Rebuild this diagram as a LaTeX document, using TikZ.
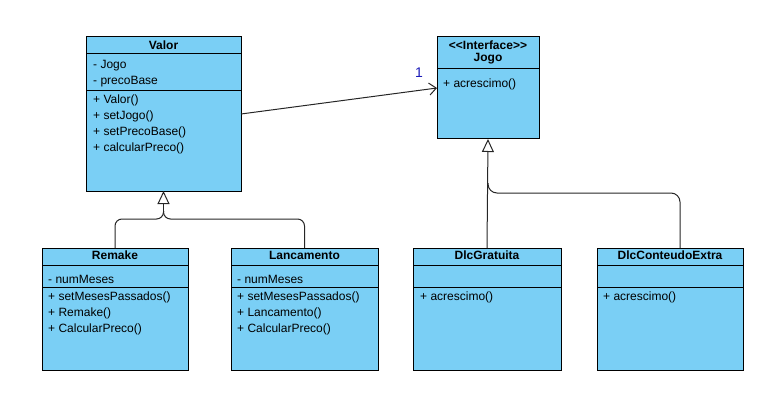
\documentclass[tikz,border=0pt]{standalone}
\usepackage{fontspec}
\setmainfont{Liberation Sans}
\usetikzlibrary{arrows.meta,calc}
\definecolor{boxblue}{HTML}{7ACFF5}
\definecolor{labelblue}{HTML}{1A1AB8}
\begin{document}
\begin{tikzpicture}[x=1pt,y=-1pt,
  umlbox/.style={draw=black, fill=boxblue, line width=1pt, anchor=north west, inner sep=0pt, outer sep=0pt},
  sepline/.style={draw=black, line width=1pt},
  member/.style={anchor=west, inner sep=0pt, font=\fontsize{12}{14}\selectfont},
  header/.style={anchor=center, inner sep=0pt, font=\fontsize{12}{14}\selectfont\bfseries},
  conn/.style={draw=black!85, line width=1pt},
  gentip/.style={-{Triangle[open, length=13pt, width=12pt, line width=1pt]}},
  assoc/.style={conn, -{Straight Barb[length=7pt, width=12pt, line width=1pt]}}]
\useasboundingbox (0,0) rectangle (778,406);

% ---- Valor ----
\node[umlbox, minimum width=155pt, minimum height=154pt] (valor) at (86,37) {};
\draw[sepline] (86,54) -- (241,54);
\draw[sepline] (86,91) -- (241,91);
\node[header] (valorH) at (163.5,45) {Valor};
\node[member] (valorA1) at (93,66) {- Jogo};
\node[member] (valorA2) at (93,82) {- precoBase};
\node[member] (valorM1) at (93,100) {+ Valor()};
\node[member] (valorM2) at (93,116) {+ setJogo()};
\node[member] (valorM3) at (93,132) {+ setPrecoBase()};
\node[member] (valorM4) at (93,148) {+ calcularPreco()};

% ---- Jogo ----
\node[umlbox, minimum width=102pt, minimum height=102pt] (jogo) at (437,37) {};
\draw[sepline] (437,69) -- (539,69);
\node[header] (jogoS) at (488,45) {<\kern0pt<Interface>\kern0pt>};
\node[header] (jogoH) at (488,59) {Jogo};
\node[member] (jogoM1) at (443,84) {+ acrescimo()};

% ---- Remake ----
\node[umlbox, minimum width=146pt, minimum height=122pt] (remake) at (42,248) {};
\draw[sepline] (42,265) -- (188,265);
\draw[sepline] (42,287) -- (188,287);
\node[header] (remakeH) at (115,255) {Remake};
\node[member] (remakeA1) at (48,279) {- numMeses};
\node[member] (remakeM1) at (48,297) {+ setMesesPassados()};
\node[member] (remakeM2) at (48,313) {+ Remake()};
\node[member] (remakeM3) at (48,329) {+ CalcularPreco()};

% ---- Lancamento ----
\node[umlbox, minimum width=147pt, minimum height=122pt] (lanc) at (231,248) {};
\draw[sepline] (231,265) -- (378,265);
\draw[sepline] (231,287) -- (378,287);
\node[header] (lancH) at (304.5,255) {Lancamento};
\node[member] (lancA1) at (237,279) {- numMeses};
\node[member] (lancM1) at (237,297) {+ setMesesPassados()};
\node[member] (lancM2) at (237,313) {+ Lancamento()};
\node[member] (lancM3) at (237,329) {+ CalcularPreco()};

% ---- DlcGratuita ----
\node[umlbox, minimum width=148pt, minimum height=122pt] (dlcg) at (413,248) {};
\draw[sepline] (413,265) -- (561,265);
\draw[sepline] (413,287) -- (561,287);
\node[header] (dlcgH) at (487,255) {DlcGratuita};
\node[member] (dlcgM1) at (420,297) {+ acrescimo()};

% ---- DlcConteudoExtra ----
\node[umlbox, minimum width=146pt, minimum height=122pt] (dlcc) at (597,248) {};
\draw[sepline] (597,265) -- (743,265);
\draw[sepline] (597,287) -- (743,287);
\node[header] (dlccH) at (670,255) {DlcConteudoExtra};
\node[member] (dlccM1) at (603,297) {+ acrescimo()};

% ---- association ----
\draw[assoc] (valor.east) -- (jogo.west);
\node[anchor=center, inner sep=0pt, text=labelblue, font=\fontsize{14}{16}\selectfont] (mult) at (419,73) {1};

% ---- generalization to Valor ----
\coordinate (vJ) at ($(valor.south)+(0,28)$);
\coordinate (vJup) at ($(valor.south)+(0,20)$);
\draw[conn, rounded corners=7pt] (remake.north) |- (vJ) -- (vJup);
\draw[conn, rounded corners=7pt] (lanc.north) |- (vJ) -- (vJup);
\draw[conn, gentip] (vJup) -- (valor.south);

% ---- generalization to Jogo ----
\coordinate (dlccTop) at ($(dlcc.north)+(10,0)$);
\coordinate (jJ) at ($(jogo.south)+(0,54)$);
\coordinate (jJup) at ($(jogo.south)+(0,44)$);
\draw[conn, rounded corners=9pt] (dlccTop) |- (jJ) -- (jJup);
\draw[conn, gentip] (dlcg.north) -- (jogo.south);
\end{tikzpicture}
\end{document}
